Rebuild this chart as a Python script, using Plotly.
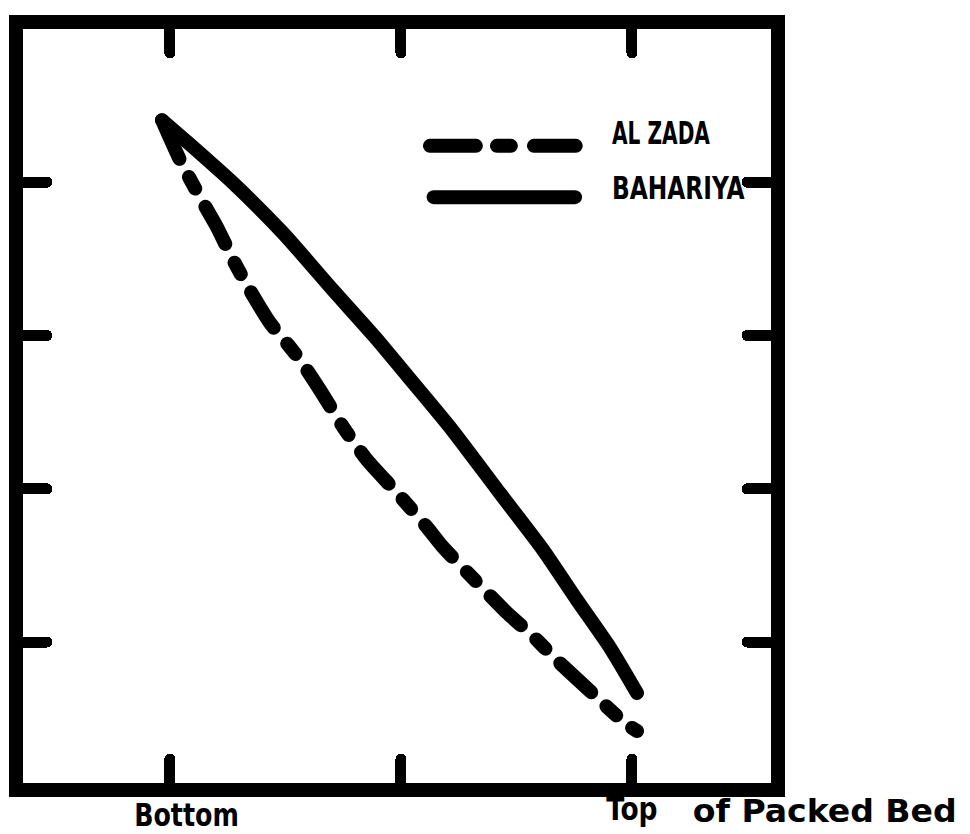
import plotly.graph_objects as go

# ---- data ----
x_ticks = [0, 0.5, 1]
y_ticks = [1, 2, 3, 4]

bahariya_x = [-0.017, 0.033, 0.137, 0.245, 0.353, 0.444, 0.498, 0.606, 0.714, 0.808, 0.881, 0.953, 1.011]
bahariya_y = [4.405, 4.274, 3.994, 3.668, 3.296, 2.989, 2.794, 2.402, 1.972, 1.600, 1.274, 0.961, 0.667]

alzada_x = [-0.017, 0.022, 0.065, 0.102, 0.137, 0.173, 0.217, 0.253, 0.282, 0.325, 0.375,
            0.427, 0.492, 0.556, 0.591, 0.660, 0.730, 0.779, 0.844, 0.914, 0.985, 1.011]
alzada_y = [4.405, 4.144, 3.903, 3.707, 3.492, 3.296, 3.081, 2.950, 2.839, 2.644, 2.402,
            2.187, 1.972, 1.750, 1.619, 1.404, 1.189, 1.058, 0.863, 0.667, 0.471, 0.419]

series_names = ["AL ZADA", "BAHARIYA"]
bottom_label = "Bottom"
top_label = "Top"
axis_note = "of Packed Bed"

FONT = "DejaVu Sans Condensed, DejaVu Sans, sans-serif"
LW = 14

fig = go.Figure()
fig.add_trace(go.Scatter(
    x=alzada_x, y=alzada_y, mode="lines", name=series_names[0],
    line=dict(color="black", width=LW, dash="42px,21px,13px,21px", shape="spline", smoothing=0.6),
    hoverinfo="skip"))
fig.add_trace(go.Scatter(
    x=bahariya_x, y=bahariya_y, mode="lines", name=series_names[1],
    line=dict(color="black", width=LW, shape="spline", smoothing=0.6),
    hoverinfo="skip"))

axis_common = dict(showgrid=False, zeroline=False, showline=True, linecolor="black",
                   linewidth=LW, mirror="allticks", ticks="inside", ticklen=24,
                   tickwidth=11, tickcolor="black", showticklabels=False, fixedrange=True)

fig.update_xaxes(range=[-0.318, 1.301], tickvals=x_ticks, **axis_common)
fig.update_yaxes(range=[0.08, 5.0], tickvals=y_ticks, **axis_common)

txt = dict(family=FONT, size=32, color="black", weight="bold")
annotations = [
    dict(text=bottom_label, x=0.218, y=-0.042, xanchor="center", yanchor="middle"),
    dict(text=top_label, x=0.814, y=-0.034, xanchor="center", yanchor="middle"),
    dict(text=axis_note, x=1.072, y=-0.037, xanchor="center", yanchor="middle"),
    dict(text=series_names[0], x=0.785, y=0.862, xanchor="left", yanchor="middle"),
    dict(text=series_names[1], x=0.785, y=0.789, xanchor="left", yanchor="middle"),
]
for a in annotations:
    a.update(xref="paper", yref="paper", showarrow=False, font=txt)

shapes = [
    dict(type="line", xref="paper", yref="paper", x0=0.544, x1=0.739, y0=0.845, y1=0.845,
         line=dict(color="black", width=LW, dash="46px,21px,14px,23px,42px")),
    dict(type="line", xref="paper", yref="paper", x0=0.549, x1=0.738, y0=0.777, y1=0.777,
         line=dict(color="black", width=LW)),
]

fig.update_layout(
    width=970, height=834,
    margin=dict(l=23, r=199, t=29, b=51),
    paper_bgcolor="white", plot_bgcolor="white",
    showlegend=False,
    annotations=annotations, shapes=shapes,
)

post = """
document.body.style.margin = '0';
document.body.style.overflow = 'hidden';
var gd = document.getElementsByClassName('plotly-graph-div')[0];
var scales = [0.88, 0.92, 1.15, 0.7, 0.81];
var origins = ['50% 50%', '50% 50%', '50% 50%', '0% 50%', '0% 50%'];
function styleIt(){
  gd.querySelectorAll('.scatterlayer path.js-line, .shapelayer path, path.ticks').forEach(function(p){
    p.style.strokeLinecap = 'round';
    p.style.strokeLinejoin = 'round';
  });
  gd.querySelectorAll('g.annotation').forEach(function(g){
    var i = +g.getAttribute('data-index');
    var t = g.querySelector('text');
    if (!t || isNaN(i)) return;
    t.style.transformBox = 'fill-box';
    t.style.transformOrigin = origins[i];
    t.style.transform = 'scaleX(' + scales[i] + ')';
  });
}
styleIt();
gd.on('plotly_afterplot', styleIt);
"""
fig.write_html("out.html", post_script=post, config={"staticPlot": True})
